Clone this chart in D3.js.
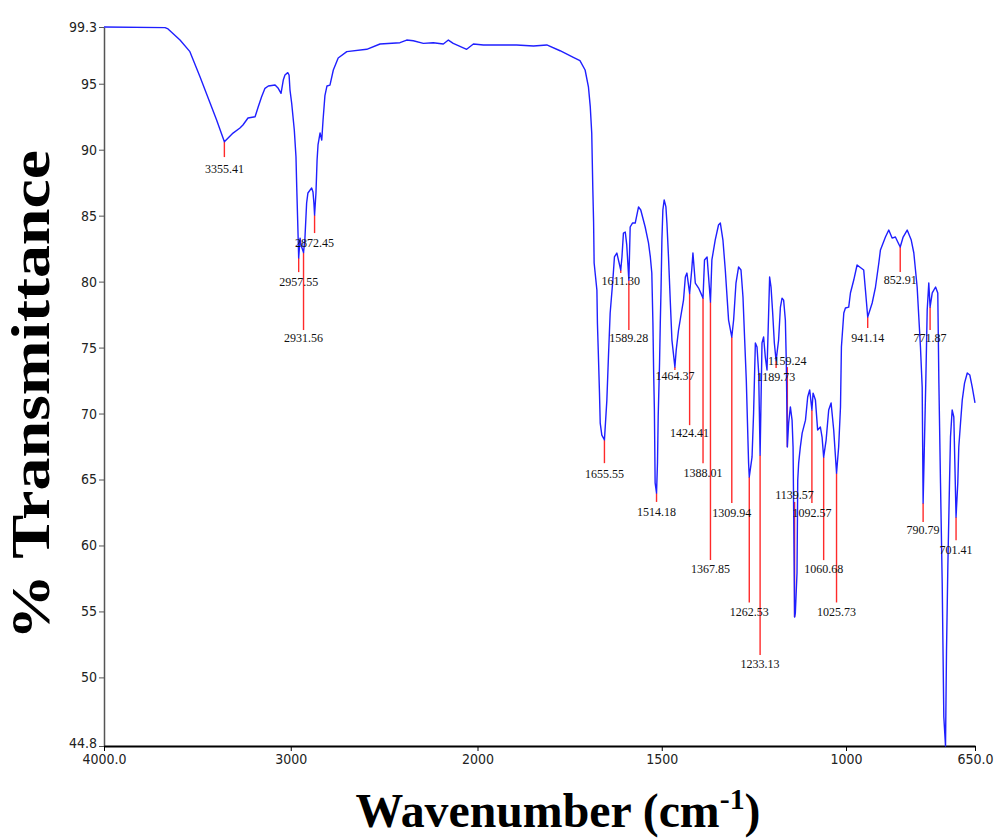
<!DOCTYPE html>
<html>
<head>
<meta charset="utf-8">
<script src="https://cdn.jsdelivr.net/npm/d3@7"></script>
<style>
    body { margin: 0; background: #fff; }
    .tick-label { font-family: "DejaVu Sans Condensed", "Liberation Sans", sans-serif; font-size: 14px; fill: #222; }
    .peak-label { font-family: "Liberation Serif", "DejaVu Serif", serif; font-size: 12px; fill: #111; }
    .axis-title { font-family: "Liberation Serif", "DejaVu Serif", serif; font-weight: bold; fill: #000; }
</style>
</head>
<body>
<svg class="chart" width="995" height="839"></svg>
<script>
// spectrum: wavenumber (cm-1) and % transmittance
var wavenumber = [
    4000, 3673, 3657, 3593, 3540, 3486, 3432, 3397, 3355.41, 3309, 3272, 3256, 3229, 3191, 3174, 3156,
    3138, 3120, 3084, 3067, 3052, 3040, 3031, 3016, 3009, 3004, 2995, 2981, 2972, 2968, 2963, 2957.55,
    2950, 2945, 2931.56, 2924, 2915, 2908, 2888, 2881, 2876, 2872.45, 2865, 2859, 2854, 2843, 2834, 2827,
    2817, 2806, 2790, 2772, 2746, 2700, 2593, 2522, 2415, 2379, 2344, 2290, 2237, 2183, 2156, 2130,
    2058, 2022, 1984, 1939, 1894, 1848, 1812, 1776, 1740, 1722, 1708, 1699, 1694, 1690, 1687, 1685,
    1683.5, 1676, 1674.6, 1671.8, 1669, 1667, 1662.6, 1655.55, 1649, 1644.7, 1640, 1632.7, 1628.4, 1621.9, 1611.3, 1608,
    1604, 1599, 1595, 1589.28, 1585.7, 1579.5, 1572, 1563, 1557, 1545, 1536, 1531, 1527, 1524, 1522, 1520,
    1518, 1514.18, 1511.6, 1509.7, 1506, 1504, 1502, 1499.6, 1497, 1493.4, 1488.7, 1486, 1481.7, 1477, 1472.4, 1464.37,
    1460.8, 1454.5, 1450, 1441, 1436, 1431.7, 1424.41, 1418.7, 1415.4, 1409, 1400, 1388.01, 1384, 1377, 1367.85, 1364,
    1355, 1346, 1341, 1334, 1327.6, 1318.7, 1309.94, 1305, 1298.6, 1291.5, 1285, 1279.6, 1275, 1270.6, 1264.4, 1262.53,
    1255, 1250.8, 1246, 1241.5, 1237, 1233.13, 1228, 1223.6, 1219, 1214.4, 1210, 1207.3, 1203.5, 1199, 1194.5, 1189.73,
    1183, 1178, 1173.6, 1169.3, 1164.6, 1162, 1159.24, 1155.7, 1151, 1146.4, 1143.7, 1142, 1139.57, 1137.5, 1133, 1131,
    1128.5, 1124, 1119, 1110, 1104, 1098.6, 1092.57, 1089.4, 1083, 1077, 1069.6, 1065, 1060.68, 1054, 1047, 1040.5,
    1033.4, 1025.73, 1020, 1015, 1012.5, 1006, 1001.6, 992.7, 988, 979, 970, 952, 947.3, 941.14, 929, 920,
    911, 906.6, 893, 884, 875, 866, 859.6, 852.91, 845, 834, 823, 816, 807, 798, 793.3, 790.79,
    783.6, 779.7, 775.4, 771.87, 766, 757, 751, 748, 743.6, 739, 734.6, 730, 727.3, 723.7, 719.2, 716.5,
    712, 707.5, 701.41, 696.7, 694, 689.3, 684.6, 678.4, 671, 664, 657.5, 650
];
var transmittance = [
    99.3, 99.25, 99.15, 98.31, 97.43, 95.53, 93.54, 92.25, 90.6, 91.26, 91.64, 91.87, 92.4, 92.5, 93.26, 94.02,
    94.65, 94.83, 94.9, 94.65, 94.27, 95.28, 95.66, 95.84, 95.66, 94.52, 93.52, 91.49, 89.47, 87.19, 84.67, 81.8,
    83.3, 82.78, 82.2, 83.3, 85.96, 86.72, 87.1, 86.8, 85.96, 85.05, 86.72, 89.22, 90.36, 91.27, 90.73, 92.25,
    94.1, 94.83, 94.9, 96.04, 96.95, 97.43, 97.61, 98.01, 98.11, 98.31, 98.26, 98.06, 98.11, 98.01, 98.31, 98.06,
    97.61, 98.01, 97.94, 97.94, 97.94, 97.86, 97.94, 97.5, 97.0, 96.75, 96.04, 94.77, 93.26, 91.24, 86.94, 84.54,
    81.41, 79.36, 76.86, 74.28, 71.55, 69.28, 68.37, 68.0, 71.0, 74.28, 77.62, 80.12, 81.87, 82.17, 80.88, 81.87,
    83.68, 83.76, 82.78, 80.1, 84.14, 84.44, 84.44, 85.66, 85.43, 84.14, 82.93, 81.87, 80.65, 76.86, 73.07, 70.28,
    64.74, 63.97, 66.25, 69.74, 73.83, 76.86, 79.36, 83.15, 85.43, 86.19, 85.66, 84.44, 81.87, 78.6, 75.57, 73.53,
    74.81, 76.33, 77.09, 78.6, 80.35, 80.65, 79.1, 80.88, 82.17, 79.89, 79.51, 78.75, 81.64, 81.87, 78.45, 81.64,
    83.15, 84.29, 84.44, 83.15, 80.88, 77.09, 75.8, 77.09, 79.89, 81.11, 80.88, 78.83, 75.57, 72.54, 66.25, 65.19,
    66.71, 70.04, 75.35, 75.04, 73.07, 66.86, 75.35, 75.8, 74.28, 73.3, 77.62, 80.35, 79.59, 77.62, 75.35, 74.0,
    75.57, 78.07, 78.75, 78.6, 77.09, 73.83, 67.46, 69.28, 70.5, 69.5, 67.46, 62.46, 54.57, 54.88, 57.91, 64.96,
    66.25, 67.46, 68.52, 69.5, 71.25, 71.79, 70.27, 71.55, 71.02, 68.75, 68.98, 68.22, 66.7, 67.99, 70.27, 70.8,
    68.75, 65.48, 67.46, 70.5, 75.04, 77.62, 78.0, 78.07, 79.14, 80.12, 81.26, 80.88, 79.36, 77.32, 78.38, 79.59,
    81.41, 82.4, 83.38, 83.91, 83.3, 83.38, 83.0, 82.62, 83.38, 83.91, 83.15, 82.17, 79.59, 75.04, 72.01, 63.22,
    72.31, 77.85, 79.89, 78.07, 79.14, 79.59, 79.14, 72.31, 64.74, 57.16, 47.0, 44.8, 52.08, 58.37, 64.74, 68.22,
    70.27, 69.74, 62.16, 64.74, 67.46, 69.28, 71.02, 72.31, 73.07, 72.92, 72.01, 70.8
];

// picked peaks: label, transmittance at the peak, where its red line ends, where its label sits
var peakLabels = ['3355.41', '2957.55', '2931.56', '2872.45', '1655.55', '1611.30', '1589.28', '1514.18', '1464.37',
    '1424.41', '1388.01', '1367.85', '1309.94', '1262.53', '1233.13', '1189.73', '1159.24', '1139.57', '1092.57',
    '1060.68', '1025.73', '941.14', '852.91', '771.87', '790.79', '701.41'];
var peakT = [90.6, 81.8, 82.2, 85.05, 68.0, 80.88, 80.1, 63.97, 73.53, 79.1, 78.75, 78.45, 75.8, 65.19, 66.86,
    74.0, 67.46, 54.57, 70.27, 66.7, 65.48, 77.32, 82.62, 78.07, 63.22, 62.16];
var peakLineEndT = [89.44, 80.72, 76.33, 83.68, 66.24, 80.65, 76.33, 63.3, 73.3, 69.12, 66.24, 58.89, 63.21, 55.68,
    51.69, 73.45, 73.52, 63.3, 63.21, 58.89, 55.68, 76.48, 80.72, 76.33, 61.77, 60.4];
var peakTextT = [88.53, 79.97, 75.72, 82.92, 65.41, 80.04, 75.72, 62.53, 72.84, 68.52, 65.48, 58.2, 62.45, 55.0,
    51.0, 72.76, 73.98, 63.82, 62.45, 58.2, 55.0, 75.72, 80.12, 75.72, 61.16, 59.65];

// axis ticks
var xTicks = [4000, 3000, 2000, 1500, 1000, 650];
var xTickLabels = ['4000.0', '3000', '2000', '1500', '1000', '650.0'];
var yTicks = [99.3, 95, 90, 85, 80, 75, 70, 65, 60, 55, 50, 44.8];
var yTickLabels = ['99.3', '95', '90', '85', '80', '75', '70', '65', '60', '55', '50', '44.8'];

(function () {
    var svg = d3.select('.chart');

    // the region below 2000 cm-1 is drawn at twice the scale of the region above it
    var x = d3.scaleLinear().domain([4000, 2000, 650]).range([104, 477.5, 975]);
    var y = d3.scaleLinear().domain([44.8, 99.3]).range([746, 27]);

    // y axis
    var yAxis = svg.append('g')
        .attr('transform', 'translate(104,0)')
        .call(d3.axisLeft(y)
            .tickValues(yTicks)
            .tickSize(5)
            .tickSizeOuter(0)
            .tickFormat(function (d, i) { return yTickLabels[i]; }));
    yAxis.select('.domain').attr('stroke', '#555').attr('stroke-width', 1.5);
    yAxis.selectAll('.tick line').attr('stroke', '#555');
    yAxis.selectAll('.tick text').attr('class', 'tick-label').attr('x', -7);
    // the bottom label sits a little higher so it clears the first x label
    yAxis.selectAll('.tick text').filter(function (d) { return d === 44.8; }).attr('dy', '0.1em');

    // x axis
    var xAxis = svg.append('g')
        .attr('transform', 'translate(0,746)')
        .call(d3.axisBottom(x)
            .tickValues(xTicks)
            .tickSize(5)
            .tickSizeOuter(0)
            .tickFormat(function (d, i) { return xTickLabels[i]; }));
    xAxis.select('.domain').attr('stroke', '#000').attr('stroke-width', 2);
    xAxis.selectAll('.tick line').attr('stroke', '#000');
    xAxis.selectAll('.tick text').attr('class', 'tick-label').attr('y', 8);

    // red lines from each peak to its label
    var peaks = peakLabels.map(function (label, i) {
        return { label: label, wn: +label, t: peakT[i], end: peakLineEndT[i], text: peakTextT[i] };
    });

    svg.append('g').selectAll('line')
        .data(peaks)
        .enter().append('line')
            .attr('x1', function (d) { return x(d.wn); })
            .attr('x2', function (d) { return x(d.wn); })
            .attr('y1', function (d) { return y(d.t); })
            .attr('y2', function (d) { return y(d.end); })
            .attr('stroke', '#ff2a2a')
            .attr('stroke-width', 1.4);

    // the spectrum
    var line = d3.line()
        .x(function (d) { return x(d[0]); })
        .y(function (d) { return y(d[1]); });

    svg.append('path')
        .datum(wavenumber.map(function (w, i) { return [w, transmittance[i]]; }))
        .attr('d', line)
        .attr('fill', 'none')
        .attr('stroke', '#1f1fff')
        .attr('stroke-width', 1.4)
        .attr('stroke-linejoin', 'round');

    // peak labels
    svg.append('g').selectAll('text')
        .data(peaks)
        .enter().append('text')
            .attr('class', 'peak-label')
            .attr('x', function (d) { return x(d.wn); })
            .attr('y', function (d) { return y(d.text); })
            .attr('dy', '.35em')
            .attr('text-anchor', 'middle')
            .text(function (d) { return d.label; });

    // axis titles
    svg.append('text')
        .attr('class', 'axis-title')
        .attr('transform', 'translate(49,395) rotate(-90)')
        .attr('text-anchor', 'middle')
        .attr('font-size', 54)
        .attr('textLength', 490)
        .attr('lengthAdjust', 'spacingAndGlyphs')
        .text('% Transmittance');

    var xTitle = svg.append('text')
        .attr('class', 'axis-title')
        .attr('x', 558)
        .attr('y', 827)
        .attr('text-anchor', 'middle')
        .attr('font-size', 48)
        .attr('textLength', 405)
        .attr('lengthAdjust', 'spacingAndGlyphs');
    xTitle.append('tspan').text('Wavenumber (cm');
    xTitle.append('tspan').attr('dy', -18).attr('font-size', 30).text('-1');
    xTitle.append('tspan').attr('dy', 18).text(')');
}());
</script>
</body>
</html>
